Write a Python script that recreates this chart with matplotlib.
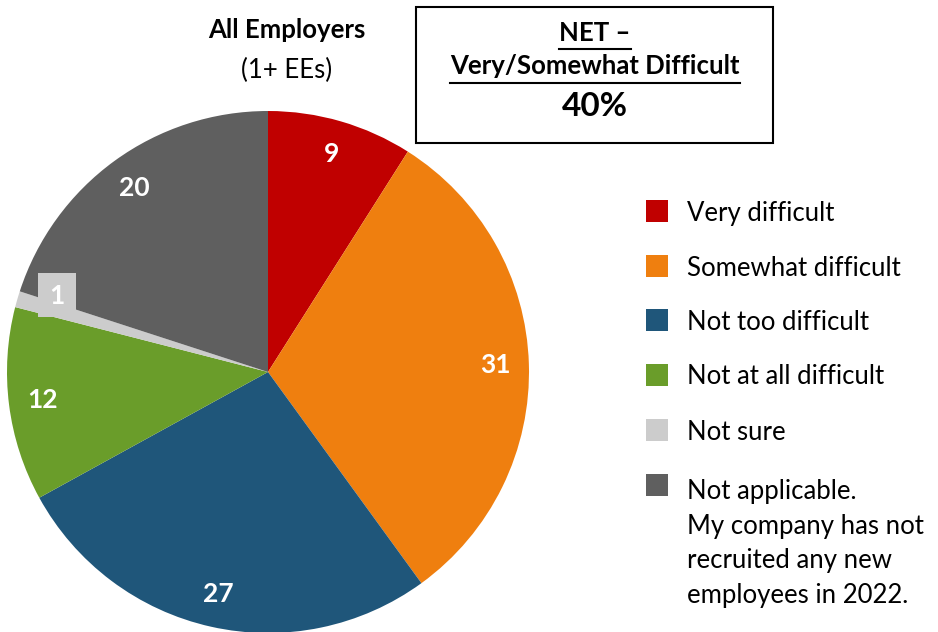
import matplotlib
matplotlib.use("Agg")
import matplotlib.pyplot as plt
from matplotlib.patches import Rectangle

categories = ["Very difficult", "Somewhat difficult", "Not too difficult",
              "Not at all difficult", "Not sure",
              "Not applicable.\nMy company has not\nrecruited any new\nemployees in 2022."]
values = [9, 31, 27, 12, 1, 20]
colors = ["#C00000", "#EF7F0F", "#1F567A", "#6A9D2A", "#CCCCCC", "#5F5F5F"]
title_main = "All Employers"
title_sub = "(1+ EEs)"
net_line1 = "NET \u2013"
net_line2 = "Very/Somewhat Difficult"
net_value = "40%"

FONT = ["Lato", "DejaVu Sans"]
plt.rcParams['font.family'] = FONT

W, H = 938, 632
fig = plt.figure(figsize=(W / 100, H / 100), dpi=100)
ax = fig.add_axes([0, 0, 1, 1])


def py(y):  # pixel-from-top to data y
    return H - y


wedges, texts = ax.pie(values, colors=colors, startangle=90, counterclock=False,
                       center=(268, py(372)), radius=261, labels=[str(v) for v in values],
                       labeldistance=0.87, frame=True,
                       textprops=dict(color="white", fontsize=19, fontweight="bold",
                                      ha="center", va="center"))
ax.set_xlim(0, W)
ax.set_ylim(0, H)
ax.axis("off")
# small slice label sits on a box in the slice colour, outside its thin wedge
for t, v, c in zip(texts, values, colors):
    if v <= 2:
        t.set_position((57, py(296)))
        ax.add_patch(Rectangle((57 - 19, py(295) - 22), 38, 44, facecolor=c,
                               edgecolor="none", zorder=t.get_zorder() - 0.5))

# Title
ax.text(287, py(30), title_main, ha="center", va="center", fontsize=18.5, fontweight="bold")
ax.text(287, py(70), title_sub, ha="center", va="center", fontsize=18.5)

# NET box
ax.add_patch(Rectangle((416, py(143)), 357, 136, facecolor="white", edgecolor="black", lw=1.5))
t1 = ax.text(595, py(33), net_line1, ha="center", va="center", fontsize=18.5, fontweight="bold")
t2 = ax.text(595, py(66), net_line2, ha="center", va="center", fontsize=18.5, fontweight="bold")
ax.text(595, py(107), net_value, ha="center", va="center", fontsize=24, fontweight="bold")

fig.canvas.draw()
r = fig.canvas.get_renderer()
for t, yline in ((t1, 49), (t2, 83)):
    bb = t.get_window_extent(renderer=r)
    ax.plot([bb.x0, bb.x1], [py(yline), py(yline)], color="black", lw=1.5)

# Legend
row_y = [211, 266, 320, 375, 430, 485]
line_gap = 36
for lab, c, y in zip(categories, colors, row_y):
    ax.add_patch(Rectangle((646, py(y) - 11), 22, 22, facecolor=c, edgecolor="none"))
    n_extra = lab.count("\n")
    # va='baseline' anchors the last line, so shift by the extra lines
    ax.text(687, py(y + 9.5 + n_extra * line_gap), lab, ha="left", va="baseline",
            fontsize=18.5, linespacing=1.47)

fig.savefig("out.png", dpi=100)
